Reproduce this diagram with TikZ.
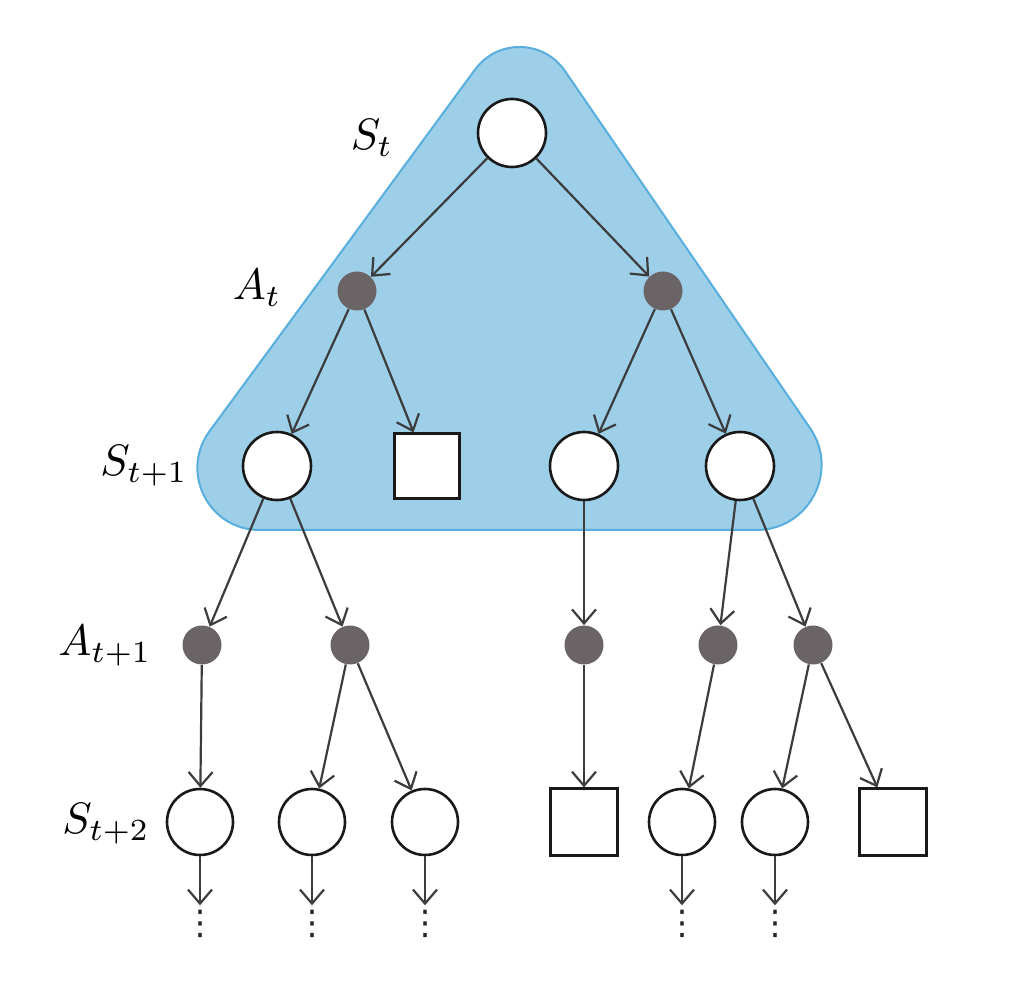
\documentclass[tikz,border=0pt]{standalone}
\usepackage{fontspec}
\newfontfamily\dejavu{DejaVu Sans}
\usetikzlibrary{arrows.meta}
\definecolor{triFill}{RGB}{157,207,233}
\definecolor{triBorder}{RGB}{88,174,221}
\definecolor{dotGray}{RGB}{107,100,102}
\definecolor{edgeGray}{RGB}{60,60,60}
\newcommand{\biglab}[1]{\scalebox{2.2}{$#1$}}
\tikzset{
  stnode/.style={circle, draw=black!90, line width=1.3pt, fill=white, minimum size=34pt, inner sep=0pt},
  termnode/.style={rectangle, draw=black!90, line width=1.1pt, fill=white, minimum size=32.5pt, inner sep=0pt},
  actnode/.style={circle, fill=dotGray, minimum size=19.5pt, inner sep=0pt},
  arr/.style={draw=edgeGray, line width=1.1pt, -{Straight Barb[length=7pt,width=12pt]}},
  lab/.style={inner sep=0pt},
  vd/.style={font=\dejavu\fontsize{17}{17}\selectfont, inner sep=0pt, outer xsep=0pt, outer ysep=2.5pt, text=black!85},
}
\begin{document}
\begin{tikzpicture}[x=0.5pt, y=-0.5pt]
\useasboundingbox (0,0) rectangle (1024,988);
\fill[white] (0,0) rectangle (1024,988);
% shaded rounded triangle
\draw[fill=triFill, draw=triBorder, line width=1pt]
  (259.5,530) -- (756.5,530)
  .. controls (808.8,530) and (839.7,471.3) .. (810.1,428.2)
  -- (564.8,70.8)
  .. controls (543.4,39.7) and (497.6,38.9) .. (475.2,69.4)
  -- (209.5,431.3)
  .. controls (179.4,472.2) and (208.7,530) .. (259.5,530) -- cycle;
% labels
\node[lab] (lS0) at (372,138) {\biglab{S_t}};
\node[lab] (lA0) at (257,288) {\biglab{A_t}};
\node[lab] (lS1) at (144,466) {\biglab{S_{t+1}}};
\node[lab] (lA1) at (105,646) {\biglab{A_{t+1}}};
\node[lab] (lS2) at (106,824) {\biglab{S_{t+2}}};
% level 0
\node[stnode] (r0) at (512,133) {};
% level A_t
\node[actnode] (a1) at (357,291) {};
\node[actnode] (a2) at (663,291) {};
% level S_{t+1}
\node[stnode] (s1) at (277,466) {};
\node[termnode] (s2) at (427,466) {};
\node[stnode] (s3) at (584,466) {};
\node[stnode] (s4) at (740,466) {};
% level A_{t+1}
\node[actnode] (b1) at (202,645) {};
\node[actnode] (b2) at (350,645) {};
\node[actnode] (b3) at (584,645) {};
\node[actnode] (b4) at (718,645) {};
\node[actnode] (b5) at (813,645) {};
% level S_{t+2}
\node[stnode, minimum size=33pt] (c1) at (200,822) {};
\node[stnode, minimum size=33pt] (c2) at (312,822) {};
\node[stnode, minimum size=33pt] (c3) at (425,822) {};
\node[termnode, minimum size=33.5pt] (c4) at (584,822) {};
\node[stnode, minimum size=33pt] (c5) at (682,822) {};
\node[stnode, minimum size=33pt] (c6) at (775,822) {};
\node[termnode, minimum size=33.5pt] (c7) at (893,822) {};
% continuation dots
\node[vd] (v1) at (200,924) {⋮};
\node[vd] (v2) at (312,924) {⋮};
\node[vd] (v3) at (425,924) {⋮};
\node[vd] (v5) at (682,924) {⋮};
\node[vd] (v6) at (775,924) {⋮};
% edges
\draw[arr] (r0) -- (a1);
\draw[arr] (r0) -- (a2);
\draw[arr] (a1) -- (s1);
\draw[arr] (a1) -- (s2);
\draw[arr] (a2) -- (s3);
\draw[arr] (a2) -- (s4);
\draw[arr] (s1) -- (b1);
\draw[arr] (s1) -- (b2);
\draw[arr] (s3) -- (b3);
\draw[arr] (s4) -- (b4);
\draw[arr] (s4) -- (b5);
\draw[arr] (b1) -- (c1);
\draw[arr] (b2) -- (c2);
\draw[arr] (b2) -- (c3);
\draw[arr] (b3) -- (c4);
\draw[arr] (b4) -- (c5);
\draw[arr] (b5) -- (c6);
\draw[arr] (b5) -- (c7);
\draw[arr] (c1) -- (v1);
\draw[arr] (c2) -- (v2);
\draw[arr] (c3) -- (v3);
\draw[arr] (c5) -- (v5);
\draw[arr] (c6) -- (v6);
\end{tikzpicture}
\end{document}
